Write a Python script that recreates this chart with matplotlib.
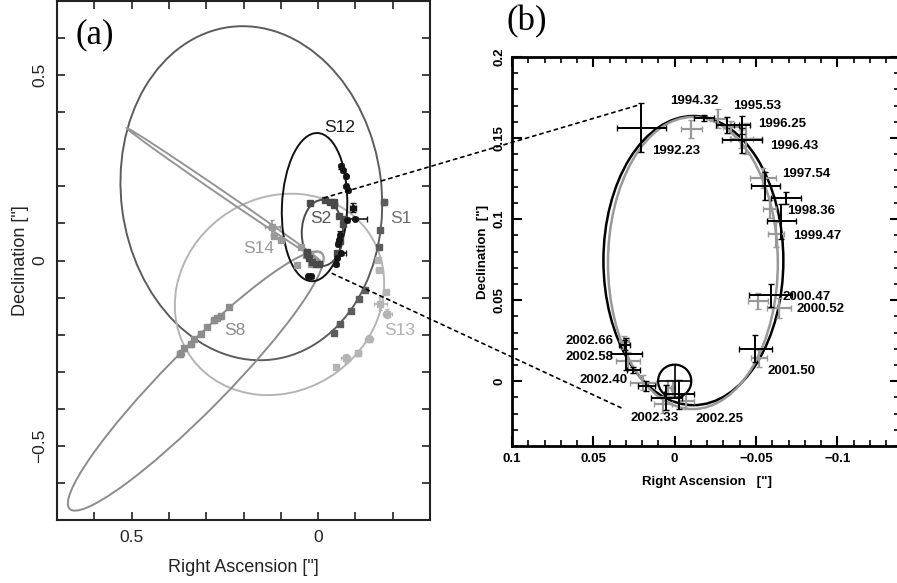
import numpy as np
import matplotlib.pyplot as plt
from matplotlib.patches import Ellipse, Circle, ConnectionPatch
from matplotlib.ticker import MultipleLocator

plt.rcParams['font.family'] = ['Liberation Sans', 'DejaVu Sans']

# ---- panel (a): orbit fits (centre RA, centre Dec, full axes, angle) ----
orbit_names = ['S1', 'S13', 'S8', 'S14', 'S12', 'S2']
orbit_cx = [0.179, 0.1035, 0.328, 0.254, 0.0095, -0.0115]
orbit_cy = [0.1815, -0.0915, -0.325, 0.1785, 0.144, 0.0744]
orbit_w = [0.904, 0.583, 0.966, 0.629, 0.400, 0.1784]
orbit_h = [0.698, 0.520, 0.164, 0.014, 0.175, 0.1106]
orbit_ang = [82.7, -36.7, -45.6, 34.6, 92.3, 90.0]
orbit_col = ['#5c5c5c', '#b4b4b4', '#8c8c8c', '#959595', '#111111', '#4a4a4a']

label_x = [-0.223, -0.22, 0.2245, 0.159, -0.059, -0.007]
label_y = [0.112, -0.188, -0.188, 0.0315, 0.36, 0.112]
label_col = ['#6e6e6e', '#b0b0b0', '#8c8c8c', '#9a9a9a', '#1a1a1a', '#555555']

# measured positions in panel (a)
s1_x = [-0.176, -0.167, -0.164, -0.126, -0.110, -0.088, -0.058, -0.043]
s1_y = [0.159, 0.081, 0.036, -0.079, -0.103, -0.136, -0.172, -0.195]
s1_err = [0.008, 0.005, 0.005, 0.005, 0.005, 0.006, 0.006, 0.005]

s13_x = [-0.16, -0.162, -0.182, -0.167, -0.185, -0.137, -0.108, -0.074, -0.048]
s13_y = [0.002, -0.025, -0.085, -0.116, -0.143, -0.211, -0.249, -0.264, -0.287]
s13_err = [0.006, 0.006, 0.006, 0.018, 0.012, 0.01, 0.008, 0.012, 0.006]

s8_x = [0.239, 0.2616, 0.27, 0.2796, 0.2976, 0.315, 0.333, 0.342, 0.36, 0.369]
s8_y = [-0.1255, -0.1505, -0.154, -0.1595, -0.179, -0.197, -0.2105, -0.224, -0.237, -0.251]
s8_err = [0.005, 0.006, 0.005, 0.008, 0.005, 0.006, 0.005, 0.008, 0.006, 0.01]

s14_x = [0.123, 0.118, 0.10, 0.0465, 0.033, 0.0556, 0.0196]
s14_y = [0.0896, 0.067, 0.0556, 0.0358, 0.016, -0.0116, -0.009]
s14_err = [0.02, 0.006, 0.005, 0.005, 0.005, 0.005, 0.005]

s12_x = [-0.062, -0.066, -0.074, -0.076, -0.079, -0.093, -0.100, -0.078,
         -0.058, -0.056, -0.053, -0.062, -0.050, -0.048, 0.026, 0.018]
s12_y = [0.254, 0.244, 0.227, 0.200, 0.190, 0.142, 0.112, 0.110,
         0.070, 0.055, 0.045, 0.020, 0.008, -0.010, -0.043, -0.043]
s12_xerr = [0.004, 0.004, 0.004, 0.004, 0.004, 0.008, 0.03, 0.004,
            0.004, 0.004, 0.004, 0.012, 0.004, 0.004, 0.004, 0.004]
s12_yerr = [0.006, 0.004, 0.004, 0.004, 0.004, 0.012, 0.004, 0.004,
            0.010, 0.004, 0.004, 0.004, 0.004, 0.004, 0.004, 0.004]

# ---- panel (b): S2 astrometry ----
b_epoch = ['1992.23', '1994.32', '1995.53', '1996.25', '1996.43', '1997.54',
           '1998.36', '1999.47', '2000.47', '2001.50', '2002.25', '2002.33',
           '2002.40', '2002.50', '2002.58', '2002.66']
b_x = [0.0205, -0.018, -0.0324, -0.0416, -0.0416, -0.0558, -0.0683, -0.0656,
       -0.059, -0.0496, -0.0027, 0.0051, 0.0174, 0.0256, 0.0297, 0.0307]
b_y = [0.1564, 0.1625, 0.158, 0.1578, 0.1486, 0.1205, 0.1132, 0.0988,
       0.0529, 0.0201, -0.0082, -0.0103, -0.0031, 0.0068, 0.0168, 0.0225]
b_xerr = [0.015, 0.006, 0.0072, 0.005, 0.0123, 0.0087, 0.0092, 0.0087,
          0.0133, 0.010, 0.0092, 0.0097, 0.005, 0.004, 0.0097, 0.0035]
b_yerr = [0.015, 0.002, 0.005, 0.0056, 0.0077, 0.0087, 0.0036, 0.0108,
          0.0072, 0.0084, 0.0092, 0.0077, 0.003, 0.002, 0.010, 0.003]

g_x = [-0.0103, -0.0267, -0.0349, -0.0441, -0.041, -0.0543, -0.0584, -0.0625,
       -0.0512, -0.064, -0.0517, -0.0072, 0.0072, 0.0195, 0.0287, 0.031, 0.004, 0.001]
g_y = [0.1554, 0.162, 0.1568, 0.1496, 0.1496, 0.1255, 0.1062, 0.0906,
       0.0496, 0.0451, 0.014, -0.0123, -0.0143, -0.001, 0.0127, 0.024, -0.004, -0.004]
g_xerr = [0.0062, 0.0051, 0.005, 0.0097, 0.0072, 0.0077, 0.004, 0.005,
          0.0062, 0.0072, 0.005, 0.0046, 0.0056, 0.0082, 0.0072, 0.003, 0.0015, 0.0015]
g_yerr = [0.0056, 0.006, 0.0036, 0.0097, 0.0056, 0.0061, 0.0056, 0.0077,
          0.0051, 0.0062, 0.005, 0.0051, 0.0051, 0.0046, 0.0051, 0.004, 0.005, 0.005]

# fits drawn in (b): black and grey
fit_cx = [-0.0115, -0.0112]
fit_cy = [0.0744, 0.0729]
fit_w = [0.1784, 0.1802]
fit_h = [0.1106, 0.1044]
fit_col = ['black', '#999999']

lab_text = ['1992.23', '1994.32', '1995.53', '1996.25', '1996.43', '1997.54',
            '1998.36', '1999.47', '2000.47', '2000.52', '2001.50', '2002.66',
            '2002.58', '2002.40', '2002.33', '2002.25']
lab_x = [0.0141, 0.0031, -0.0357, -0.051, -0.0584, -0.0658, -0.0689, -0.0726,
         -0.0664, -0.075, -0.0572, 0.067, 0.067, 0.0584, 0.0271, -0.0129]
lab_y = [0.1421, 0.1728, 0.1697, 0.1587, 0.1451, 0.1279, 0.1052, 0.0898,
         0.0517, 0.0443, 0.0062, 0.0246, 0.0148, 0.0006, -0.0228, -0.0234]

# zoom guide lines: panel (a) point -> panel (b) point
link_a = [(-0.016, 0.169), (-0.038, -0.035)]
link_b = [(0.0234, 0.170), (0.0326, -0.0166)]

fig = plt.figure(figsize=(8.97, 5.83), dpi=100)
ax_a = fig.add_axes([57 / 897, 1 - 520 / 583, 373 / 897, 519 / 583])
ax_b = fig.add_axes([512 / 897, 1 - 446 / 583, 388 / 897, 389 / 583])

# ---------------- panel (a) ----------------
for cx, cy, w, h, ang, c in zip(orbit_cx, orbit_cy, orbit_w, orbit_h, orbit_ang, orbit_col):
    ax_a.add_patch(Ellipse((cx, cy), w, h, angle=ang, fill=False, ec=c, lw=1.4))
ax_a.add_patch(Circle((0.003, 0.005), 0.018, fill=False, ec='#a0a0a0', lw=1.2))

ax_a.errorbar(s13_x, s13_y, xerr=s13_err, yerr=s13_err, fmt='s', ms=4,
              color='#b4b4b4', elinewidth=1.2, capsize=1.5)
ax_a.errorbar(s1_x, s1_y, xerr=s1_err, yerr=s1_err, fmt='s', ms=4,
              color='#5c5c5c', elinewidth=1.2, capsize=1.5)
ax_a.errorbar(s8_x, s8_y, xerr=s8_err, yerr=s8_err, fmt='s', ms=4,
              color='#8c8c8c', elinewidth=1.2, capsize=1.5)
ax_a.errorbar(s14_x, s14_y, xerr=s14_err, yerr=s14_err, fmt='s', ms=4,
              color='#9a9a9a', elinewidth=1.2, capsize=1.5)
ax_a.errorbar(b_x, b_y, xerr=0.004, yerr=0.004, fmt='s', ms=4,
              color='#4a4a4a', elinewidth=1.0, capsize=1)
ax_a.errorbar(s12_x, s12_y, xerr=s12_xerr, yerr=s12_yerr, fmt='o', ms=4,
              color='#151515', elinewidth=1.2, capsize=2)

for name, x, y, c in zip(orbit_names, label_x, label_y, label_col):
    ax_a.text(x, y, name, color=c, fontsize=12.5, ha='center', va='center')

ax_a.set_xlim(0.7, -0.3)
ax_a.set_ylim(-0.7, 0.7)
ax_a.xaxis.set_major_locator(MultipleLocator(0.5))
ax_a.yaxis.set_major_locator(MultipleLocator(0.5))
ax_a.xaxis.set_minor_locator(MultipleLocator(0.1))
ax_a.yaxis.set_minor_locator(MultipleLocator(0.1))
ax_a.xaxis.set_major_formatter(lambda v, p: '0' if abs(v) < 1e-9 else ('%g' % v).replace('-', '\u2212'))
ax_a.yaxis.set_major_formatter(lambda v, p: '0' if abs(v) < 1e-9 else ('%g' % v).replace('-', '\u2212'))
ax_a.tick_params(which='both', direction='in', top=True, right=True,
                 length=6, width=1.2, color='#222222', labelsize=12.5, labelcolor='#222222')
ax_a.tick_params(axis='x', pad=7)
ax_a.tick_params(axis='y', pad=7, labelrotation=90)
for t in ax_a.get_yticklabels():
    t.set_va('center')
for s in ax_a.spines.values():
    s.set_linewidth(1.5)
    s.set_color('#222222')
ax_a.set_xlabel('Right Ascension ["]', fontsize=13, color='#222222')
ax_a.set_ylabel('Declination ["]', fontsize=13, color='#222222')
ax_a.xaxis.set_label_coords(0.5, -0.092)
ax_a.xaxis.label.set_va('center')
ax_a.yaxis.set_label_coords(-0.099, 0.5)
ax_a.yaxis.label.set_va('center')
ax_a.text(0.102, 0.935, '(a)', transform=ax_a.transAxes, fontsize=25,
          family='Liberation Serif', ha='center', va='center')

# ---------------- panel (b) ----------------
for cx, cy, w, h, c in zip(fit_cx, fit_cy, fit_w, fit_h, fit_col):
    ax_b.add_patch(Ellipse((cx, cy), h, w, fill=False, ec=c, lw=1.8))

ax_b.errorbar(g_x, g_y, xerr=g_xerr, yerr=g_yerr, fmt='none', ecolor='#999999',
              elinewidth=1.6, capsize=2)
ax_b.errorbar(b_x, b_y, xerr=b_xerr, yerr=b_yerr, fmt='none', ecolor='black',
              elinewidth=1.4, capsize=2)

ax_b.add_patch(Circle((0, 0), 0.0102, fill=False, ec='black', lw=1.6))
ax_b.plot([-0.0102, 0.0102], [0, 0], color='black', lw=1.2)
ax_b.plot([0, 0], [-0.0102, 0.0102], color='black', lw=1.2)

for txt, x, y in zip(lab_text, lab_x, lab_y):
    ax_b.text(x, y, txt, fontsize=9.5, fontweight='bold', ha='left', va='center')

ax_b.set_xlim(0.1, -0.1385)
ax_b.set_ylim(-0.04, 0.2)
ax_b.xaxis.set_major_locator(MultipleLocator(0.05))
ax_b.yaxis.set_major_locator(MultipleLocator(0.05))
ax_b.xaxis.set_minor_locator(MultipleLocator(0.01))
ax_b.yaxis.set_minor_locator(MultipleLocator(0.01))
ax_b.xaxis.set_major_formatter(lambda v, p: '0' if abs(v) < 1e-9 else ('%g' % round(v, 3)).replace('-', '\u2212'))
ax_b.yaxis.set_major_formatter(lambda v, p: '0' if abs(v) < 1e-9 else ('%g' % round(v, 3)).replace('-', '\u2212'))
ax_b.tick_params(which='major', direction='in', top=True, right=True, length=7, width=1.5)
ax_b.tick_params(which='minor', direction='in', top=True, right=True, length=4, width=1.2)
ax_b.tick_params(axis='x', pad=5, labelsize=9.5)
ax_b.tick_params(axis='y', pad=5, labelsize=9.5, labelrotation=90)
for t in ax_b.get_xticklabels() + ax_b.get_yticklabels():
    t.set_fontweight('bold')
for t in ax_b.get_yticklabels():
    t.set_va('center')
for s in ax_b.spines.values():
    s.set_linewidth(2)
ax_b.set_xlabel('Right Ascension   ["]', fontsize=9.5, fontweight='bold')
ax_b.set_ylabel('Declination  ["]', fontsize=9.5, fontweight='bold')
ax_b.xaxis.set_label_coords((707 - 512) / 388, -(482 - 446) / 389)
ax_b.xaxis.label.set_va('center')
ax_b.yaxis.set_label_coords(-(512 - 483) / 388, 0.5)
ax_b.yaxis.label.set_va('center')
fig.text(527 / 897, 1 - 22 / 583, '(b)', fontsize=25, family='Liberation Serif',
         ha='center', va='center')

# dotted zoom guides
for pa, pb in zip(link_a, link_b):
    con = ConnectionPatch(xyA=pa, coordsA=ax_a.transData, xyB=pb, coordsB=ax_b.transData,
                          color='black', lw=1.2, ls=(0, (2, 2.5)))
    fig.add_artist(con)

fig.savefig('out.png', dpi=100)
